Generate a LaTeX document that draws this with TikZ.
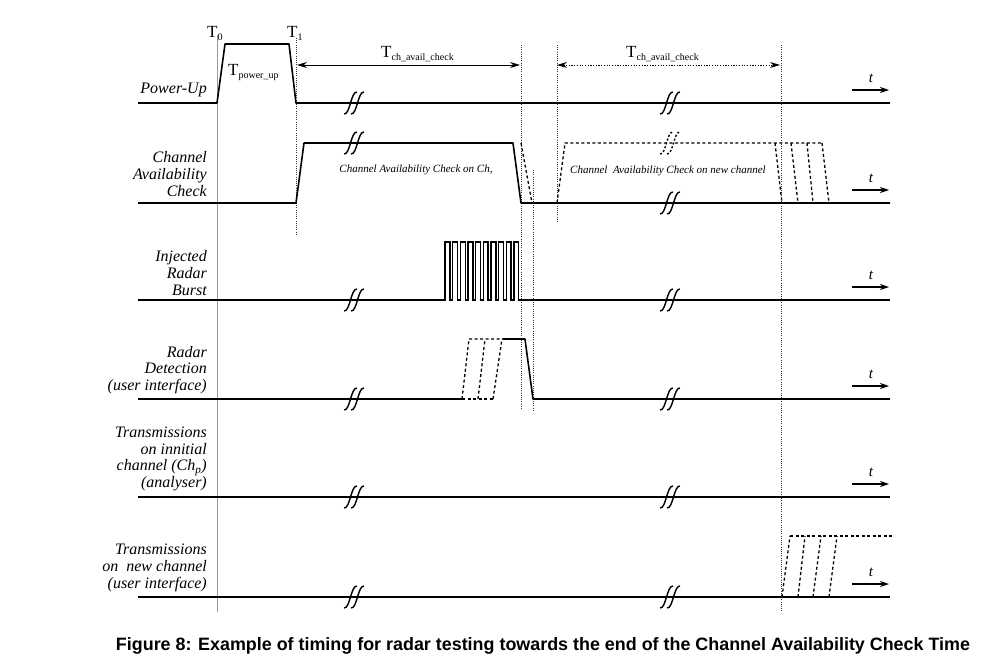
\documentclass[tikz,border=0pt]{standalone}
\usepackage{fontspec}
\setmainfont{Liberation Serif}
\newfontfamily\captionsans{Liberation Sans}
\usetikzlibrary{arrows.meta}

\tikzset{
  sig/.style={line width=1.6pt, line join=round},
  altsig/.style={line width=1.3pt, dash pattern=on 3pt off 2.5pt},
  marker/.style={line width=0.8pt, dash pattern=on 1pt off 1.2pt, draw=black!80},
  refline/.style={line width=0.7pt, draw=black!40},
  rowlabel/.style={anchor=east, align=right, inner sep=0pt,
    font=\fontsize{16}{16.7}\selectfont\itshape},
  sigtext/.style={inner sep=0pt, font=\fontsize{11}{12}\selectfont\itshape},
  tlabel/.style={anchor=base west, inner sep=0pt, font=\fontsize{17}{18}\selectfont},
  timeaxis/.style={line width=1.1pt, -{Stealth[length=9pt,width=6pt]}},
  span/.style={line width=0.9pt, {Stealth[length=10pt,width=6pt]}-{Stealth[length=10pt,width=6pt]}},
  brk/.style={line width=1.4pt},
  breakmark/.pic={
    \draw[pic actions] (-10,11) .. controls (-4,12) and (-3,-12) .. (3,-11);
    \draw[pic actions] (-3,11) .. controls (3,12) and (4,-12) .. (10,-11);
  }
}
\newcommand{\tsub}[1]{\raisebox{-0.4ex}{\fontsize{10}{10}\selectfont #1}}

\begin{document}
\begin{tikzpicture}[x=1pt,y=-1pt]
\useasboundingbox (0,0) rectangle (991,667);

% ---- time markers ----
\coordinate (g0) at (217,35);  \coordinate (g1) at (217,612);
\draw[refline] (g0) -- (g1);
\coordinate (m1a) at (296,38);  \coordinate (m1b) at (296,236);
\coordinate (m2a) at (521,45);  \coordinate (m2b) at (521,410);
\coordinate (m3a) at (533,170); \coordinate (m3b) at (533,410);
\coordinate (m4a) at (557,45);  \coordinate (m4b) at (557,222);
\coordinate (m5a) at (781,45);  \coordinate (m5b) at (781,612);
\foreach \a/\b in {m1a/m1b, m2a/m2b, m3a/m3b, m4a/m4b, m5a/m5b}
  \draw[marker] (\a) -- (\b);

\node[tlabel] (t0) at (207,37) {T\tsub{0}};
\node[tlabel] (t1) at (287,37) {T\tsub{1}};
\node[tlabel] (tpu) at (228,75) {T\tsub{power\_up}};
\node[tlabel] (tca) at (381,57) {T\tsub{ch\_avail\_check}};
\node[tlabel] (tcb) at (626,57) {T\tsub{ch\_avail\_check}};

\coordinate (sa1) at (297,65); \coordinate (sa2) at (520,65);
\coordinate (sb1) at (557,65); \coordinate (sb2) at (780,65);
\draw[span] (sa1) -- (sa2);
\draw[span, dash pattern=on 1.2pt off 1.5pt] (sb1) -- (sb2);

% ---- row labels ----
\node[rowlabel] (lpu) at (207,90) {Power-Up};
\node[rowlabel] (lcac) at (207,174) {Channel\\Availability\\Check};
\node[rowlabel] (lirb) at (207,273) {Injected\\Radar\\Burst};
\node[rowlabel] (lrd) at (207,370) {Radar\\Detection\\(user interface)};
\node[rowlabel] (lti) at (207,459) {Transmissions\\on innitial\\channel (Ch\textsubscript{p})\\(analyser)};
\node[rowlabel] (ltn) at (207,568) {Transmissions\\on\ \ new channel\\(user interface)};

% ---- time axis arrows ----
\foreach \yb/\nm in {103/a,203/b,300/c,399/d,497/e,597/f}{
  \coordinate (ax\nm1) at (852,\yb-13);
  \coordinate (ax\nm2) at (889,\yb-13);
  \draw[timeaxis] (ax\nm1) -- (ax\nm2);
  \node[sigtext, font=\fontsize{15}{16}\selectfont\itshape] (tt\nm) at (871,\yb-25) {t};
}

% ---- Power-Up ----
\draw[sig] (138,103) -- (217,103) -- (225,44) -- (289,44) -- (296,103) -- (890,103);
\pic[brk] at (354,103) {breakmark};
\pic[brk] at (670,103) {breakmark};

% ---- Channel Availability Check ----
\draw[sig] (138,203) -- (296,203) -- (304,143) -- (513,143) -- (521,203) -- (890,203);
\draw[altsig] (521,143) -- (532,203);
\draw[altsig] (557,203) -- (565,143) -- (823,143);
\foreach \xa/\xb in {775/782, 791/798, 807/813, 822/829}
  \draw[altsig] (\xa,143) -- (\xb,203);
\pic[brk] at (354,143) {breakmark};
\pic[brk, dash pattern=on 2pt off 2pt] at (670,143) {breakmark};
\pic[brk] at (670,203) {breakmark};
\node[sigtext] (cac1) at (416,170) {Channel Availability Check on Ch,};
\node[sigtext] (cac2) at (668,171) {Channel\ \ Availability Check on new channel};

% ---- Injected Radar Burst ----
\draw[sig, line width=1.4pt, line join=miter]
  (138,300) -- (445,300)
  \foreach \i in {0,...,9} {
    -- ({445+7.65*\i},242) -- ({449.9+7.65*\i},242)
    -- ({449.9+7.65*\i},300) -- ({452.65+7.65*\i},300)
  }
  -- (890,300);
\pic[brk] at (354,300) {breakmark};
\pic[brk] at (670,300) {breakmark};

% ---- Radar Detection ----
\draw[sig] (138,399) -- (462,399);
\draw[altsig] (462,399) -- (493,399);
\draw[altsig] (462,399) -- (469,339) -- (503,339);
\draw[altsig] (478,399) -- (485,339);
\draw[altsig] (493,399) -- (502,339);
\draw[sig] (503,339) -- (525,339) -- (533,399) -- (890,399);
\pic[brk] at (354,399) {breakmark};
\pic[brk] at (670,399) {breakmark};

% ---- Transmissions on initial channel ----
\draw[sig] (138,497) -- (890,497);
\pic[brk] at (354,497) {breakmark};
\pic[brk] at (670,497) {breakmark};

% ---- Transmissions on new channel ----
\draw[sig] (138,597) -- (890,597);
\foreach \xa/\xb in {782/790, 798/805, 813/821, 829/837}
  \draw[altsig] (\xa,597) -- (\xb,536);
\draw[altsig] (790,536) -- (892,536);
\pic[brk] at (354,597) {breakmark};
\pic[brk] at (670,597) {breakmark};

% ---- caption ----
\node[inner sep=0pt, font=\captionsans\bfseries\fontsize{17.9}{20}\selectfont] (cap) at (543,646)
  {Figure 8: Example of timing for radar testing towards the end of the Channel Availability Check Time};
\end{tikzpicture}
\end{document}
